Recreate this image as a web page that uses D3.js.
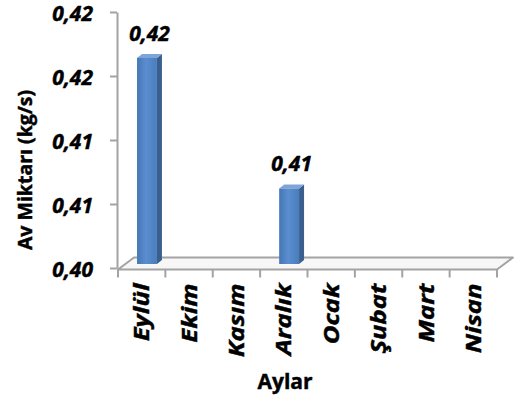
<!DOCTYPE html>
<html>
<head>
<meta charset="utf-8">
<script src="https://cdn.jsdelivr.net/npm/d3@7"></script>
<style>
  body { margin: 0; background: #fff; }
  text { font-family: "Open Sans", Lato, sans-serif; fill: #000; }
  text.heavy { stroke: #000; stroke-width: 0.45px; font-weight: bold; }
</style>
</head>
<body>
<div id="chart"></div>
<script>
const months = ["Eylül", "Ekim", "Kasım", "Aralık", "Ocak", "Şubat", "Mart", "Nisan"];
const flowValues = [0.4161, null, null, 0.4059, null, null, null, null];
const yTicks = [0.400, 0.405, 0.410, 0.415, 0.420];
const yTickLabels = ["0,40", "0,41", "0,41", "0,42", "0,42"];
const valueLabels = ["0,42", null, null, "0,41", null, null, null, null];

const width = 517, height = 401;
const floorDepth = [16, -12];   // floor back edge offset
const barOfs = [5.3, -4];       // bar front plane sits a third into the floor
const barDepth = [5, -4];
const stretch = 1.22;           // month labels are drawn long and narrow

let svg = d3.select('#chart')
  .append('svg')
    .attr('width', width)
    .attr('height', height);

let defs = svg.append('defs');
let grad = defs.append('linearGradient')
  .attr('id', 'barFront')
  .attr('x1', '0%').attr('x2', '100%').attr('y1', '0%').attr('y2', '0%');
grad.append('stop').attr('offset', '0%').attr('stop-color', '#4576b6');
grad.append('stop').attr('offset', '45%').attr('stop-color', '#5b8ed0');
grad.append('stop').attr('offset', '100%').attr('stop-color', '#4a7dbd');

let y = d3.scaleLinear()
  .domain([0.40, 0.42])
  .range([268, 12]);

let x = d3.scaleBand()
  .domain(months)
  .range([118, 497]);

const floorY = y(0.40) + 1.5;
const gray = '#a3a3a3';

// floor
let fx0 = x.range()[0], fx1 = x.range()[1];
svg.append('polygon')
  .attr('points', [
    [fx0, floorY], [fx1, floorY],
    [fx1 + floorDepth[0], floorY + floorDepth[1]],
    [fx0 + floorDepth[0], floorY + floorDepth[1]]
  ].map(p => p.join(',')).join(' '))
  .attr('fill', '#f7f7f7')
  .attr('stroke', gray)
  .attr('stroke-width', 2)
  .attr('stroke-linejoin', 'round');

// y axis
let yAxis = svg.append('g')
  .attr('transform', 'translate(117,0)')
  .call(d3.axisLeft(y)
    .tickValues(yTicks)
    .tickFormat((d, i) => yTickLabels[i])
    .tickSize(7)
    .tickSizeOuter(0)
    .tickPadding(17));
yAxis.select('.domain').attr('stroke', gray).attr('stroke-width', 2);
yAxis.selectAll('.tick line').attr('stroke', gray).attr('stroke-width', 2);
yAxis.selectAll('.tick text')
  .attr('class', 'heavy')
  .attr('font-size', 21)
  .attr('font-style', 'italic')
  .attr('dy', '0.4em')
  .attr('fill', '#000');

// x axis: labels at band centres, ticks at band edges
let xAxis = svg.append('g')
  .attr('transform', `translate(0,${floorY})`)
  .call(d3.axisBottom(x).tickSize(0).tickPadding(0));
xAxis.select('.domain').remove();
xAxis.selectAll('.tick text')
  .attr('class', 'heavy')
  .attr('transform', `rotate(-90) scale(${stretch},1)`)
  .attr('x', -14 / stretch)
  .attr('y', 0)
  .attr('dy', '0.36em')
  .attr('text-anchor', 'end')
  .attr('font-size', 21)
  .attr('font-style', 'italic')
  .attr('fill', '#000');

let edges = months.map(m => x(m)).concat([x.range()[1]]);
svg.append('g')
  .selectAll('line')
  .data(edges)
  .enter()
  .append('line')
    .attr('x1', d => d).attr('x2', d => d)
    .attr('y1', floorY).attr('y2', floorY + 8)
    .attr('stroke', gray)
    .attr('stroke-width', 2);

// bars
let barW = x.bandwidth() * 0.42;
let bars = months.map((m, i) => ({ month: m, value: flowValues[i], label: valueLabels[i] }))
  .filter(d => d.value !== null);

let barG = svg.append('g')
  .selectAll('g')
  .data(bars)
  .enter()
  .append('g');

const bx = d => x(d.month) + (x.bandwidth() - barW) / 2 + barOfs[0];
const byTop = d => y(d.value) + barOfs[1];
const byBot = () => y(0.40) + barOfs[1];

barG.append('polygon')
  .attr('points', d => [
    [bx(d) + barW, byTop(d)],
    [bx(d) + barW + barDepth[0], byTop(d) + barDepth[1]],
    [bx(d) + barW + barDepth[0], byBot() + barDepth[1]],
    [bx(d) + barW, byBot()]
  ].map(p => p.join(',')).join(' '))
  .attr('fill', '#3a5f8f');

barG.append('polygon')
  .attr('points', d => [
    [bx(d), byTop(d)],
    [bx(d) + barW, byTop(d)],
    [bx(d) + barW + barDepth[0], byTop(d) + barDepth[1]],
    [bx(d) + barDepth[0], byTop(d) + barDepth[1]]
  ].map(p => p.join(',')).join(' '))
  .attr('fill', '#7ea5d8');

barG.append('rect')
  .attr('x', d => bx(d))
  .attr('y', d => byTop(d))
  .attr('width', barW)
  .attr('height', d => byBot() - byTop(d))
  .attr('fill', 'url(#barFront)');

barG.append('text')
  .attr('class', 'heavy')
  .attr('x', d => bx(d) + barW / 2 + barDepth[0] / 2)
  .attr('y', d => byTop(d) + barDepth[1] - 13)
  .attr('text-anchor', 'middle')
  .attr('font-size', 21)
  .attr('font-style', 'italic')
  .text(d => d.label);

// axis titles
svg.append('text')
  .attr('class', 'heavy')
  .attr('transform', `translate(32,${(78 + 262) / 2}) rotate(-90)`)
  .attr('text-anchor', 'middle')
  .attr('font-size', 19.5)
  .text('Av Miktarı (kg/s)');

svg.append('text')
  .attr('class', 'heavy')
  .attr('x', 285)
  .attr('y', 389)
  .attr('text-anchor', 'middle')
  .attr('font-size', 21)
  .text('Aylar');
</script>
</body>
</html>
